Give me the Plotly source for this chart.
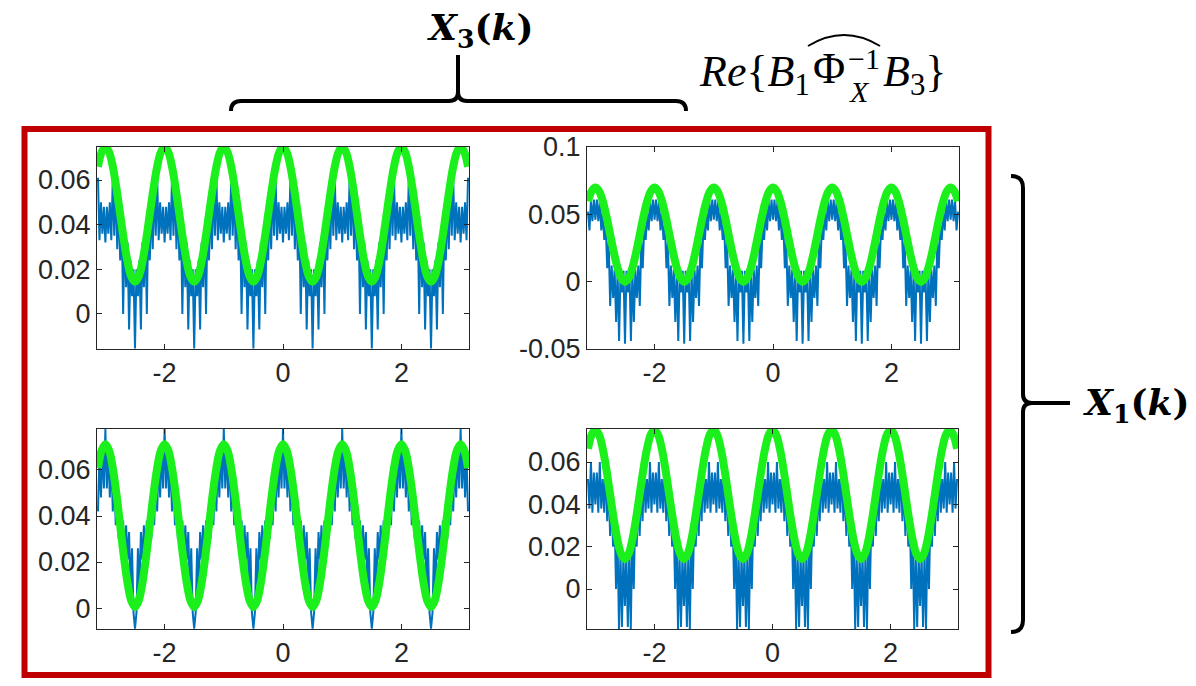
import numpy as np
import plotly.graph_objects as go

# the page body has an 8px margin, so the figure is drawn 8px smaller and shifted
OFF = 8
W, H = 1196 - OFF, 686 - OFF

# blue curves: one half period read from the peak (p=0) to the trough (p=0.5), step 0.025
BLUE_STEP = 0.025
blue_tl = [0.032, 0.048, 0.036, 0.050, 0.033, 0.061, 0.035, 0.060, 0.029, 0.050, 0.024,
           0.045, 0.000, 0.038, 0.012, 0.032, -0.007, 0.024, 0.008, 0.020, -0.0155]
blue_tr = [0.046, 0.061, 0.045, 0.060, 0.038, 0.052, 0.031, 0.042, 0.010, 0.030, -0.018,
           0.012, -0.012, 0.009, -0.030, 0.008, -0.044, 0.009, -0.008, 0.008, -0.046]
blue_bl = [0.0778, 0.052, 0.070, 0.048, 0.066, 0.042, 0.058, 0.036, 0.050, 0.030, 0.044,
           0.024, 0.038, 0.020, 0.036, 0.021, 0.033, 0.008, 0.026, -0.002, -0.009]
blue_br = [0.040, 0.055, 0.036, 0.060, 0.038, 0.052, 0.036, 0.060, 0.032, 0.050, 0.025,
           0.045, 0.020, 0.035, 0.000, 0.026, -0.019, 0.018, -0.018, 0.016, -0.008]

# green curves: half period from peak to trough, step 0.0625
GREEN_STEP = 0.0625
green_tl = [0.0748, 0.0725, 0.0660, 0.0562, 0.0447, 0.0331, 0.0233, 0.0168, 0.0145]
green_tr = [0.0700, 0.0673, 0.0597, 0.0484, 0.0350, 0.0216, 0.0103, 0.0027, 0.0000]
green_bl = [0.0712, 0.0685, 0.0609, 0.0494, 0.0359, 0.0223, 0.0108, 0.0032, 0.0005]
green_br = [0.0752, 0.0729, 0.0663, 0.0564, 0.0447, 0.0330, 0.0231, 0.0165, 0.0142]

y_ranges = [[-0.0157, 0.0748], [-0.05, 0.1], [-0.0091, 0.0778], [-0.0189, 0.0756]]
y_ticks = [[0, 0.02, 0.04, 0.06], [-0.05, 0, 0.05, 0.1], [0, 0.02, 0.04, 0.06], [0, 0.02, 0.04, 0.06]]
y_ticktext = [["0", "0.02", "0.04", "0.06"], ["-0.05", "0", "0.05", "0.1"],
              ["0", "0.02", "0.04", "0.06"], ["0", "0.02", "0.04", "0.06"]]
x_ticks = [-2, 0, 2]
x_ticktext = ["-2", "0", "2"]

# panel boxes in screen pixels: left, right, top, bottom
boxes = [(97, 469, 147, 349), (587, 959, 147, 349), (97, 469, 429, 629), (587, 958, 429, 629)]

BLUE = '#0072BD'
GREEN = '#1CF01C'
AXC = '#262626'


def px(x):
    return (x - OFF) / W


def py(y):
    return 1 - (y - OFF) / H


def periodic(half, step):
    """repeat the read half period over [-pi, pi] (the curves have period 1)"""
    n = len(half) - 1
    idx = np.arange(-n, n)
    period = np.array(half)[np.abs(idx)]
    xs = np.concatenate([k + idx * step for k in range(-4, 5)])
    ys = np.tile(period, 9)
    keep = np.abs(xs) <= np.pi
    return xs[keep], ys[keep]


fig = go.Figure()

blues = [blue_tl, blue_tr, blue_bl, blue_br]
greens = [green_tl, green_tr, green_bl, green_br]

for i in range(4):
    xa = 'x' if i == 0 else f'x{i + 1}'
    ya = 'y' if i == 0 else f'y{i + 1}'
    bx, by = periodic(blues[i], BLUE_STEP)
    gx, gy = periodic(greens[i], GREEN_STEP)
    fig.add_trace(go.Scatter(x=bx, y=by, mode='lines', xaxis=xa, yaxis=ya,
                             line=dict(color=BLUE, width=2), showlegend=False))
    fig.add_trace(go.Scatter(x=gx, y=gy, mode='lines', xaxis=xa, yaxis=ya,
                             line=dict(color=GREEN, width=8, shape='spline'), showlegend=False))

tickfont = dict(family='Liberation Sans, Arial, sans-serif', size=27, color=AXC)
layout = dict(width=W, height=H, margin=dict(l=0, r=0, t=0, b=0, pad=0, autoexpand=False),
              paper_bgcolor='white', plot_bgcolor='white')

for i, (l, r, t, b) in enumerate(boxes):
    sfx = '' if i == 0 else str(i + 1)
    common = dict(showline=True, linecolor=AXC, linewidth=1, mirror='ticks', ticks='inside',
                  ticklen=5, tickcolor=AXC, showgrid=False, zeroline=False, tickfont=tickfont,
                  automargin=False)
    layout['xaxis' + sfx] = dict(domain=[px(l), px(r)], range=[-np.pi, np.pi],
                                 anchor='y' + sfx, tickvals=x_ticks, ticktext=x_ticktext, **common)
    layout['yaxis' + sfx] = dict(domain=[py(b), py(t)], range=y_ranges[i],
                                 anchor='x' + sfx, tickvals=y_ticks[i], ticktext=y_ticktext[i], **common)

fig.update_layout(**layout)


def path(points):
    """build a paper-coordinate svg path from pixel commands"""
    out = []
    for cmd, *xy in points:
        coords = []
        for j in range(0, len(xy), 2):
            coords.append(f"{px(xy[j]):.5f},{py(xy[j + 1]):.5f}")
        out.append(cmd + ' ' + ' '.join(coords))
    return ' '.join(out)


shapes = []
# red frame
shapes.append(dict(type='rect', xref='paper', yref='paper', x0=px(24.5), x1=px(988.5),
                   y0=py(675), y1=py(129), line=dict(color='#C00000', width=6)))
# top brace
shapes.append(dict(type='path', xref='paper', yref='paper', line=dict(color='black', width=4),
                   path=path([('M', 231, 111), ('Q', 231, 101, 241, 101), ('L', 449, 101),
                              ('Q', 458, 101, 458, 92), ('L', 458, 55),
                              ('M', 458, 92), ('Q', 458, 101, 467, 101), ('L', 676, 101),
                              ('Q', 686, 101, 686, 111)])))
# right brace
shapes.append(dict(type='path', xref='paper', yref='paper', line=dict(color='black', width=4),
                   path=path([('M', 1011, 176), ('Q', 1023, 176, 1023, 188), ('L', 1023, 394),
                              ('Q', 1023, 403, 1032, 403), ('L', 1070, 403),
                              ('M', 1032, 403), ('Q', 1023, 403, 1023, 412), ('L', 1023, 620),
                              ('Q', 1023, 632, 1011, 632)])))
# wide hat over Phi and its exponent
shapes.append(dict(type='path', xref='paper', yref='paper', line=dict(color='black', width=2),
                   path=path([('M', 808, 46), ('Q', 844, 24, 880, 46)])))

bold = dict(family='DejaVu Serif, serif', size=36, color='black')
serif = dict(family='Liberation Serif, serif', size=44, color='black')
small = dict(family='Liberation Serif, serif', size=30, color='black')

annotations = [
    dict(text='<b><i>X</i><sub>3</sub>(<i>k</i>)</b>', x=px(480), y=py(30), font=bold,
         xanchor='center', yanchor='middle'),
    dict(text='<b><i>X</i><sub>1</sub>(<i>k</i>)</b>', x=px(1081), y=py(405), font=bold,
         xanchor='left', yanchor='middle'),
    dict(text='<i>Re</i>{<i>B</i><sub>1</sub>', x=px(697), y=py(74), font=serif,
         xanchor='left', yanchor='middle'),
    dict(text='Φ', x=px(811), y=py(68), font=serif, xanchor='left', yanchor='middle'),
    dict(text='−1', x=px(846), y=py(58), font=small, xanchor='left', yanchor='middle'),
    dict(text='<i>X</i>', x=px(847), y=py(92), font=small, xanchor='left', yanchor='middle'),
    dict(text='<i>B</i><sub>3</sub>}', x=px(881), y=py(74), font=serif,
         xanchor='left', yanchor='middle'),
]
for a in annotations:
    a.update(xref='paper', yref='paper', showarrow=False)

fig.update_layout(shapes=shapes, annotations=annotations)

fig.write_html("out.html")
